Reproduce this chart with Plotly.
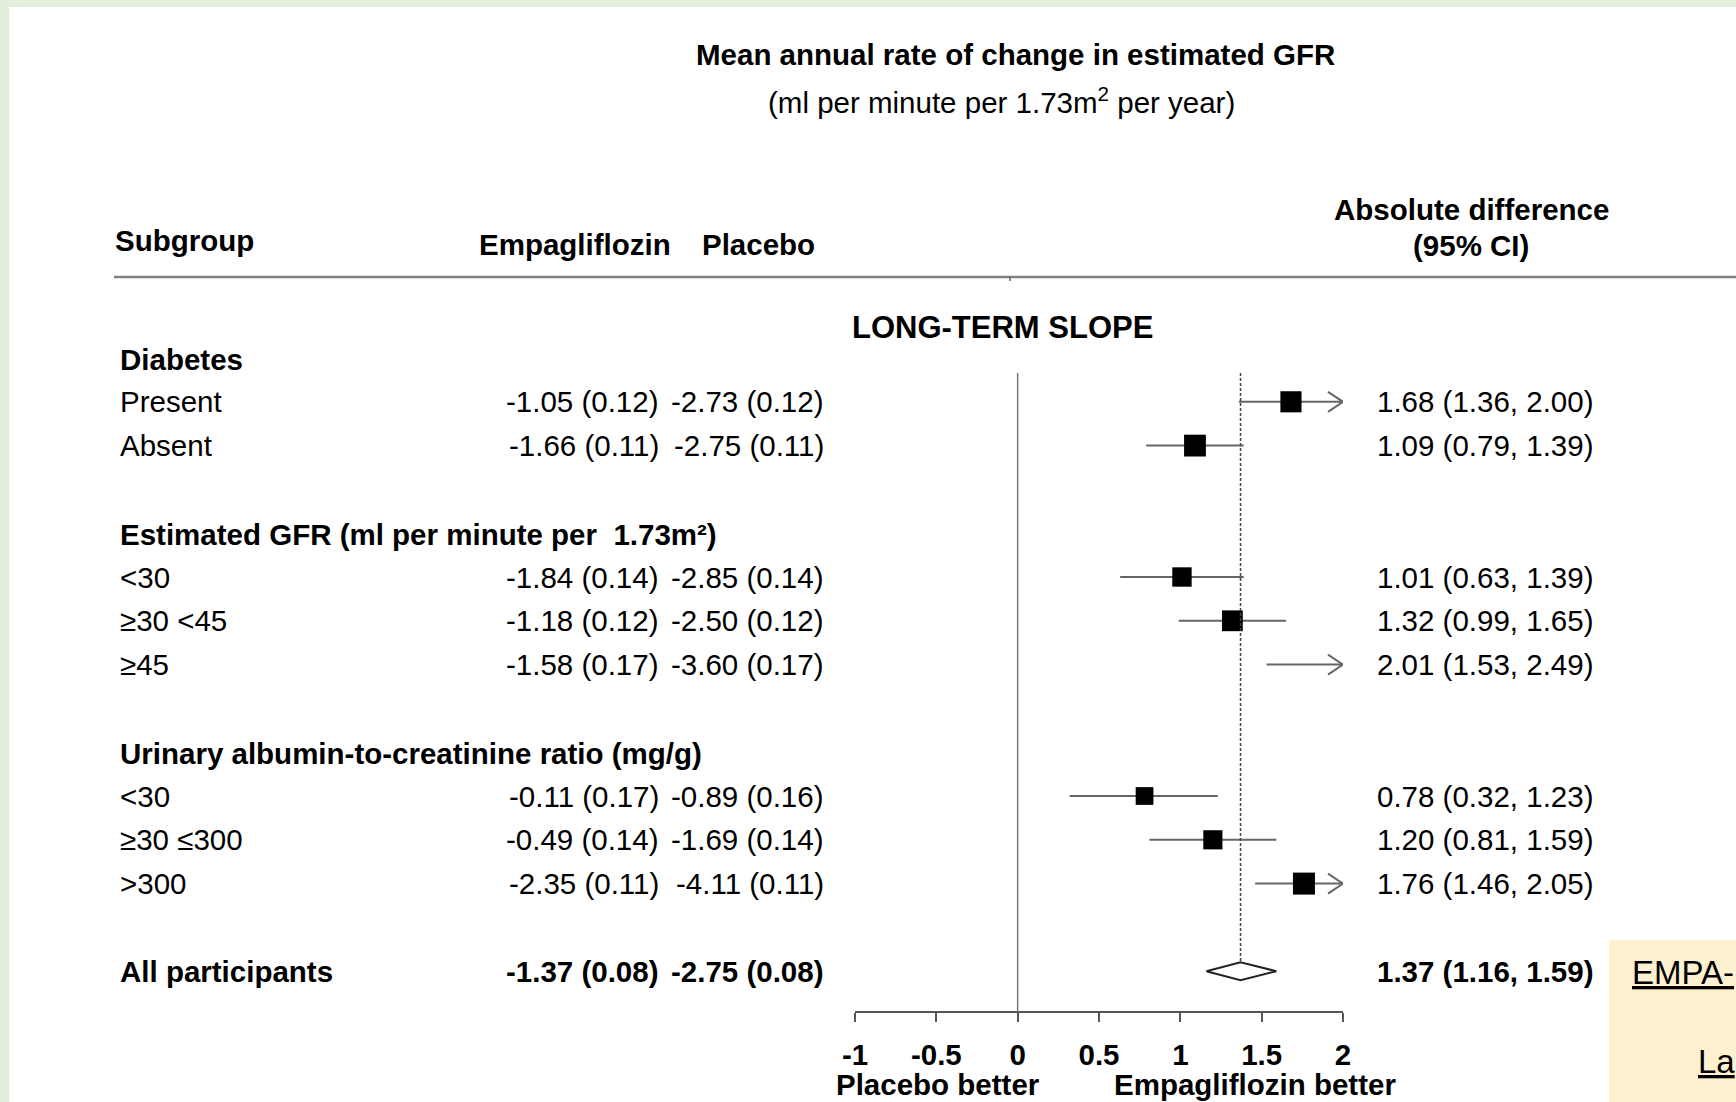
import math
import plotly.graph_objects as go

# ---- data -------------------------------------------------------------
group_titles = [
    "Diabetes",
    "Estimated GFR (ml per minute per  1.73m²)",
    "Urinary albumin-to-creatinine ratio (mg/g)",
]
row_labels = ["Present", "Absent", "<30", "≥30 <45", "≥45", "<30", "≥30 ≤300", ">300"]
row_group = [0, 0, 1, 1, 1, 2, 2, 2]

empa_mean = [-1.05, -1.66, -1.84, -1.18, -1.58, -0.11, -0.49, -2.35]
empa_se = [0.12, 0.11, 0.14, 0.12, 0.17, 0.17, 0.14, 0.11]
plac_mean = [-2.73, -2.75, -2.85, -2.50, -3.60, -0.89, -1.69, -4.11]
plac_se = [0.12, 0.11, 0.14, 0.12, 0.17, 0.16, 0.14, 0.11]

diff = [1.68, 1.09, 1.01, 1.32, 2.01, 0.78, 1.20, 1.76]
diff_lo = [1.36, 0.79, 0.63, 0.99, 1.53, 0.32, 0.81, 1.46]
diff_hi = [2.00, 1.39, 1.39, 1.65, 2.49, 1.23, 1.59, 2.05]

overall_label = "All participants"
overall_empa = (-1.37, 0.08)
overall_plac = (-2.75, 0.08)
overall_diff = 1.37
overall_lo = 1.16
overall_hi = 1.59

tick_vals = [-1, -0.5, 0, 0.5, 1, 1.5, 2]
tick_labels = ["-1", "-0.5", "0", "0.5", "1", "1.5", "2"]

# ---- geometry / style ---------------------------------------------------
W, H = 1736, 1102
FONT = "Arial, Liberation Sans, sans-serif"
FS = 29.5
BLACK = "#000000"
CI_COLOR = "#666666"

AXIS_LEFT_PX, AXIS_RIGHT_PX, AXIS_Y_PX = 855, 1343, 1012
XMIN, XMAX = tick_vals[0], tick_vals[-1]
PX_PER_UNIT = (AXIS_RIGHT_PX - AXIS_LEFT_PX) / (XMAX - XMIN)
ROW0_PX, ROW_PX = 358.0, 43.8


def paper_x(p):
    return p / W


def paper_y(p):
    return 1 - p / H


def row_of(p):
    return (p - ROW0_PX) / ROW_PX


# row index of every line in the table
header_rows, item_rows = [], []
r = 0
for g in range(len(group_titles)):
    header_rows.append(r)
    r += 1
    for i, gi in enumerate(row_group):
        if gi == g:
            item_rows.append(r)
            r += 1
    r += 1
overall_row = r

fig = go.Figure()

# confidence interval lines (clipped at the axis maximum)
for i, y in enumerate(item_rows):
    fig.add_trace(go.Scatter(
        x=[diff_lo[i], min(diff_hi[i], XMAX)], y=[y, y], mode="lines",
        line=dict(color=CI_COLOR, width=2), hoverinfo="skip", showlegend=False))

# open arrow heads where the interval runs past the axis
dx = 15 / PX_PER_UNIT
dy = 10 / ROW_PX
for i, y in enumerate(item_rows):
    if diff_hi[i] >= XMAX:
        fig.add_trace(go.Scatter(
            x=[XMAX - dx, XMAX, XMAX - dx], y=[y - dy, y, y + dy], mode="lines",
            line=dict(color=CI_COLOR, width=2), hoverinfo="skip", showlegend=False))

# point estimates inside the axis range; square size follows precision
shown = [i for i in range(len(diff)) if XMIN <= diff[i] <= XMAX]
sizes = [16.9 / math.sqrt(diff_hi[i] - diff_lo[i]) for i in shown]
fig.add_trace(go.Scatter(
    x=[diff[i] for i in shown], y=[item_rows[i] for i in shown], mode="markers",
    marker=dict(symbol="square", color=BLACK, opacity=1, size=sizes,
                line=dict(width=0, color=BLACK)),
    hoverinfo="skip", showlegend=False))

# overall diamond
dh = 9 / ROW_PX
fig.add_trace(go.Scatter(
    x=[overall_lo, overall_diff, overall_hi, overall_diff, overall_lo],
    y=[overall_row, overall_row - dh, overall_row, overall_row + dh, overall_row],
    mode="lines", fill="toself", fillcolor="white",
    line=dict(color="#222222", width=2), hoverinfo="skip", showlegend=False))

shapes = [
    # green frame
    dict(type="rect", xref="paper", yref="paper", x0=0, x1=1, y0=paper_y(7), y1=1,
         fillcolor="#e2efda", line=dict(width=0), layer="below"),
    dict(type="rect", xref="paper", yref="paper", x0=0, x1=paper_x(9), y0=0, y1=1,
         fillcolor="#e2efda", line=dict(width=0), layer="below"),
    # note box
    dict(type="rect", xref="paper", yref="paper", x0=paper_x(1609), x1=1,
         y0=0, y1=paper_y(940), fillcolor="#fff1d0", line=dict(width=0), layer="below"),
    # header rule
    dict(type="line", xref="paper", yref="paper", x0=paper_x(114), x1=1,
         y0=paper_y(277), y1=paper_y(277), line=dict(color="#808080", width=2.5)),
    dict(type="line", xref="paper", yref="paper", x0=paper_x(1010), x1=paper_x(1010),
         y0=paper_y(277), y1=paper_y(281), line=dict(color="#666666", width=1.5)),
    # line of no effect
    dict(type="line", xref="x", yref="y", x0=0, x1=0,
         y0=row_of(373), y1=row_of(AXIS_Y_PX), line=dict(color="#777777", width=1.5)),
    # overall estimate reference line
    dict(type="line", xref="x", yref="y", x0=overall_diff, x1=overall_diff,
         y0=row_of(373), y1=overall_row - dh,
         line=dict(color="#444444", width=1.5, dash="3px,2px")),
]

ann = []


def text(x, y, s, anchor="left", size=FS, bold=False, yref="paper", vanchor="middle"):
    ann.append(dict(
        x=x, y=y, xref="paper", yref=yref, text=(f"<b>{s}</b>" if bold else s),
        showarrow=False, xanchor=anchor, yanchor=vanchor, borderpad=0,
        font=dict(family=FONT, size=size, color=BLACK)))


# titles and column headers
text(paper_x(1015), paper_y(54), "Mean annual rate of change in estimated GFR", "center", bold=True)
text(paper_x(1001), paper_y(101), "(ml per minute per 1.73m<sup>2</sup> per year)", "center")
text(paper_x(1471), paper_y(209), "Absolute difference", "center", bold=True)
text(paper_x(1471), paper_y(246), "(95% CI)", "center", bold=True)
text(paper_x(114), paper_y(241), "Subgroup", bold=True)
text(paper_x(478), paper_y(244), "Empagliflozin", bold=True)
text(paper_x(701), paper_y(244), "Placebo", bold=True)
text(paper_x(1002), paper_y(327), "LONG-TERM SLOPE", "center", size=31, bold=True)

LABEL_X, EMPA_X, PLAC_X, CI_X = paper_x(118.5), paper_x(660), paper_x(825), paper_x(1594)

for g, y in enumerate(header_rows):
    text(LABEL_X, y + 0.04, group_titles[g], bold=True, yref="y")

for i, y in enumerate(item_rows):
    text(LABEL_X, y, row_labels[i], yref="y")
    text(EMPA_X, y, f"{empa_mean[i]:.2f} ({empa_se[i]:.2f})", "right", yref="y")
    text(PLAC_X, y, f"{plac_mean[i]:.2f} ({plac_se[i]:.2f})", "right", yref="y")
    text(CI_X, y, f"{diff[i]:.2f} ({diff_lo[i]:.2f}, {diff_hi[i]:.2f})", "right", yref="y")

text(LABEL_X, overall_row, overall_label, bold=True, yref="y")
text(EMPA_X, overall_row, f"{overall_empa[0]:.2f} ({overall_empa[1]:.2f})", "right", bold=True, yref="y")
text(PLAC_X, overall_row, f"{overall_plac[0]:.2f} ({overall_plac[1]:.2f})", "right", bold=True, yref="y")
text(CI_X, overall_row, f"{overall_diff:.2f} ({overall_lo:.2f}, {overall_hi:.2f})", "right", bold=True, yref="y")

# axis direction captions
text(paper_x(938), 0, "Placebo better", "center", bold=True, vanchor="bottom")
text(paper_x(1254.5), 0, "Empagliflozin better", "center", bold=True, vanchor="bottom")

# reference note (the box runs off the right edge)
text(paper_x(1631), paper_y(972), "<u>EMPA-</u>", size=33)
text(paper_x(1697), paper_y(1061), "<u>La</u>", size=33)

fig.update_layout(
    width=W, height=H, autosize=False,
    margin=dict(l=0, r=0, t=0, b=0, pad=0, autoexpand=False),
    paper_bgcolor="white", plot_bgcolor="rgba(0,0,0,0)",
    showlegend=False, shapes=shapes, annotations=ann,
    xaxis=dict(
        domain=[paper_x(AXIS_LEFT_PX), paper_x(AXIS_RIGHT_PX)],
        range=[XMIN, XMAX], anchor="free", position=paper_y(AXIS_Y_PX),
        showgrid=False, zeroline=False, showline=True, linecolor="#555555", linewidth=1.5,
        ticks="outside", ticklen=9, tickwidth=1.5, tickcolor="#555555",
        tickvals=tick_vals, ticktext=tick_labels, ticklabelstandoff=8,
        tickfont=dict(family=FONT, size=FS, color=BLACK, weight="bold"),
        automargin=False, fixedrange=True),
    yaxis=dict(
        domain=[0, 1], range=[row_of(H), row_of(0)], visible=False,
        showgrid=False, zeroline=False, automargin=False, fixedrange=True),
)

fig.write_html(
    "out.html",
    config={"displayModeBar": False, "responsive": False},
    post_script="document.body.style.margin='0';document.body.style.overflow='hidden';",
)
